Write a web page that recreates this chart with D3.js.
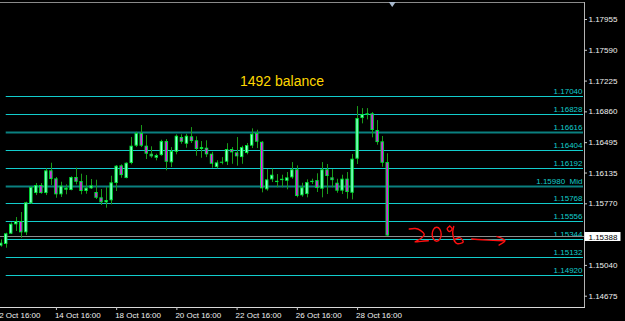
<!DOCTYPE html>
<html>
<head>
<meta charset="utf-8">
<script src="https://cdn.jsdelivr.net/npm/d3@7"></script>
<style>
	body { margin: 0; background: #000; }
	svg { display: block; }
	text { font-family: "Liberation Sans", Arial, sans-serif; }
</style>
</head>
<body>
<script>
// EURUSD H4 bars
var barOpen = [1.15268, 1.15288, 1.15410, 1.15521, 1.15560, 1.15426, 1.15770, 1.15892, 1.15987, 1.15892,
	1.16161, 1.16066, 1.15877, 1.15931, 1.15928, 1.16082, 1.16034, 1.15916, 1.15948, 1.15904,
	1.15841, 1.15782, 1.15806, 1.16011, 1.16220, 1.16070, 1.16248, 1.16453, 1.16603, 1.16453,
	1.16358, 1.16310, 1.16342, 1.16508, 1.16256, 1.16381, 1.16556, 1.16476, 1.16564, 1.16517,
	1.16414, 1.16429, 1.16358, 1.16200, 1.16251, 1.16263, 1.16414, 1.16374, 1.16318, 1.16366,
	1.16453, 1.16603, 1.16500, 1.15936, 1.16054, 1.16022, 1.16045, 1.16037, 1.16078, 1.16173,
	1.15865, 1.15880, 1.16022, 1.16045, 1.15943, 1.16173, 1.16078, 1.16014, 1.15920, 1.16062,
	1.15895, 1.16299, 1.16781, 1.16820, 1.16837, 1.16639, 1.16505, 1.16259];
var barHigh = [1.15343, 1.15422, 1.15545, 1.15608, 1.15667, 1.15789, 1.15972, 1.16011, 1.16011, 1.16185,
	1.16251, 1.16082, 1.16026, 1.15995, 1.16090, 1.16192, 1.16121, 1.16105, 1.16058, 1.16050,
	1.15940, 1.15963, 1.16097, 1.16224, 1.16232, 1.16256, 1.16556, 1.16619, 1.16698, 1.16579,
	1.16446, 1.16358, 1.16524, 1.16532, 1.16437, 1.16588, 1.16588, 1.16595, 1.16674, 1.16564,
	1.16508, 1.16517, 1.16381, 1.16280, 1.16318, 1.16483, 1.16437, 1.16556, 1.16453, 1.16485,
	1.16659, 1.16642, 1.16508, 1.16175, 1.16182, 1.16117, 1.16109, 1.16141, 1.16259, 1.16220,
	1.16014, 1.16054, 1.16062, 1.16126, 1.16259, 1.16236, 1.16175, 1.16061, 1.16109, 1.16141,
	1.16355, 1.16923, 1.16899, 1.16899, 1.16852, 1.16757, 1.16568, 1.16363];
var barLow = [1.15256, 1.15244, 1.15406, 1.15442, 1.15362, 1.15394, 1.15765, 1.15868, 1.15884, 1.15868,
	1.15987, 1.15836, 1.15845, 1.15877, 1.15924, 1.15995, 1.15877, 1.15884, 1.15940, 1.15821,
	1.15750, 1.15718, 1.15758, 1.15916, 1.16073, 1.16066, 1.16232, 1.16437, 1.16437, 1.16295,
	1.16310, 1.16280, 1.16334, 1.16161, 1.16200, 1.16351, 1.16476, 1.16429, 1.16485, 1.16334,
	1.16310, 1.16318, 1.16192, 1.16185, 1.16232, 1.16224, 1.16239, 1.16216, 1.16239, 1.16351,
	1.16425, 1.16425, 1.15900, 1.15920, 1.16022, 1.15960, 1.15960, 1.15936, 1.16061, 1.15841,
	1.15848, 1.15841, 1.15999, 1.15904, 1.15841, 1.15880, 1.15960, 1.15895, 1.15880, 1.15825,
	1.15817, 1.16236, 1.16718, 1.16765, 1.16552, 1.16465, 1.16204, 1.15385];
var barClose = [1.15303, 1.15415, 1.15528, 1.15560, 1.15426, 1.15782, 1.15963, 1.15987, 1.15892, 1.16161,
	1.16058, 1.15877, 1.15979, 1.15955, 1.16082, 1.16026, 1.15916, 1.15955, 1.15983, 1.15836,
	1.15782, 1.15809, 1.16019, 1.16216, 1.16105, 1.16251, 1.16453, 1.16603, 1.16453, 1.16358,
	1.16327, 1.16342, 1.16508, 1.16263, 1.16390, 1.16571, 1.16500, 1.16571, 1.16508, 1.16414,
	1.16437, 1.16351, 1.16239, 1.16256, 1.16263, 1.16414, 1.16374, 1.16327, 1.16437, 1.16461,
	1.16595, 1.16500, 1.15948, 1.16054, 1.16109, 1.16037, 1.16061, 1.16078, 1.16173, 1.15857,
	1.15960, 1.16022, 1.16037, 1.15951, 1.16173, 1.16094, 1.16045, 1.15920, 1.16062, 1.15904,
	1.16299, 1.16781, 1.16828, 1.16837, 1.16639, 1.16496, 1.16251, 1.15388];

// time axis: bar index of each label
var timeTickBars = [-1, 11, 23, 35, 47, 59, 71];
var timeTickLabels = ["12 Oct 16:00", "14 Oct 16:00", "18 Oct 16:00", "20 Oct 16:00",
	"22 Oct 16:00", "26 Oct 16:00", "28 Oct 16:00"];

// price scale labels
var priceTicks = [1.17955, 1.17590, 1.17225, 1.16860, 1.16495, 1.16135, 1.15770, 1.15040, 1.14675];

// horizontal levels
var levelPrices = [1.17040, 1.16828, 1.16616, 1.16404, 1.16192, 1.15980, 1.15768, 1.15556, 1.15344, 1.15132, 1.14920];
var levelTags = ["", "", "", "", "", "  Mid", "", "", "", "", ""];
var levelMajor = [false, false, true, false, false, true, false, false, false, false, false];

var title = "1492 balance";

var width = 625, height = 321,
	plotRight = 584, plotBottom = 307, plotTop = 2;

var svg = d3.select("body").append("svg")
	.attr("width", width)
	.attr("height", height);

svg.append("rect").attr("width", width).attr("height", height).attr("fill", "#000");

var x = d3.scaleLinear().domain([0, barClose.length - 1]).range([0.7, 387.2]);
var y = d3.scaleLinear().domain([1.14675, 1.17955]).range([295.7, 19]);

var lastPrice = barClose[barClose.length - 1];

// levels
var levels = svg.append("g").attr("class", "levels")
	.selectAll("g")
	.data(levelPrices)
	.enter().append("g");

levels.append("line")
	.attr("x1", x(1))
	.attr("x2", plotRight - 1)
	.attr("y1", function(d) { return Math.round(y(d)) + 0.5; })
	.attr("y2", function(d) { return Math.round(y(d)) + 0.5; })
	.attr("stroke", function(d, i) { return levelMajor[i] ? "#0a8080" : "#12cccc"; })
	.attr("stroke-width", function(d, i) { return levelMajor[i] ? 2 : 1; });

levels.append("text")
	.attr("x", plotRight - 1.5)
	.attr("y", function(d) { return Math.round(y(d)) - 2; })
	.attr("text-anchor", "end")
	.attr("font-size", "8px")
	.attr("fill", "#12cccc")
	.style("white-space", "pre")
	.text(function(d, i) { return d.toFixed(5) + levelTags[i]; });

// current price line
svg.append("line")
	.attr("x1", 0).attr("x2", plotRight)
	.attr("y1", Math.round(y(lastPrice)) + 0.5)
	.attr("y2", Math.round(y(lastPrice)) + 0.5)
	.attr("stroke", "#8c8c8c");

// candles
var bars = d3.range(barClose.length);
var candle = svg.append("g").attr("class", "candles")
	.selectAll("g")
	.data(bars)
	.enter().append("g");

candle.append("line")
	.attr("x1", function(i) { return Math.round(x(i)) + 0.5; })
	.attr("x2", function(i) { return Math.round(x(i)) + 0.5; })
	.attr("y1", function(i) { return y(barHigh[i]); })
	.attr("y2", function(i) { return y(barLow[i]); })
	.attr("stroke", "#1a9a1a");

function bodyTop(i) { return y(Math.max(barOpen[i], barClose[i])); }
function bodyH(i) { return Math.max(1, y(Math.min(barOpen[i], barClose[i])) - bodyTop(i)); }

candle.append("rect")
	.attr("x", function(i) { return x(i) - 1.7; })
	.attr("width", 3.4)
	.attr("y", bodyTop)
	.attr("height", bodyH)
	.attr("fill", "#00e83a");

candle.filter(function(i) { return bodyH(i) > 2; })
	.append("rect")
	.attr("x", function(i) { return x(i) - 0.7; })
	.attr("width", 1.4)
	.attr("y", function(i) { return bodyTop(i) + 1; })
	.attr("height", function(i) { return bodyH(i) - 2; })
	.attr("fill", function(i) { return barClose[i] >= barOpen[i] ? "#8fffd8" : "#ff00ff"; });

// frame
svg.append("line").attr("x1", 0).attr("x2", plotRight).attr("y1", plotTop + 0.5).attr("y2", plotTop + 0.5)
	.attr("stroke", "#8a8a8a");
svg.append("line").attr("x1", plotRight + 0.5).attr("x2", plotRight + 0.5).attr("y1", plotTop).attr("y2", plotBottom)
	.attr("stroke", "#b4b4b4");
svg.append("line").attr("x1", 0).attr("x2", plotRight + 1).attr("y1", plotBottom + 0.5).attr("y2", plotBottom + 0.5)
	.attr("stroke", "#d8d8d8");

// shift marker
var sx = x(barClose.length);
svg.append("path")
	.attr("d", "M" + (sx - 3.5) + "," + plotTop + "L" + (sx + 3.5) + "," + plotTop + "L" + sx + "," + (plotTop + 5) + "Z")
	.attr("fill", "#a8b8cc");

// price axis
var yAxis = svg.append("g")
	.attr("transform", "translate(" + plotRight + ",0)")
	.call(d3.axisRight(y).tickValues(priceTicks).tickFormat(d3.format(".5f")).tickSize(3).tickPadding(1.5));
yAxis.select(".domain").remove();
yAxis.selectAll("line").attr("stroke", "#c8c8c8");
yAxis.selectAll("text").attr("fill", "#f0f0f0").attr("font-size", "8px").attr("font-family", null);

// current price label
var py = y(lastPrice);
svg.append("rect")
	.attr("x", plotRight + 0.5).attr("y", Math.round(py) - 4)
	.attr("width", 36).attr("height", 9)
	.attr("fill", "#fff");
svg.append("text")
	.attr("x", plotRight + 4.5).attr("y", Math.round(py) + 3.5)
	.attr("font-size", "8px").attr("fill", "#000")
	.text(lastPrice.toFixed(5));

// time axis
var xAxis = svg.append("g")
	.attr("transform", "translate(0," + plotBottom + ")")
	.call(d3.axisBottom(x).tickValues(timeTickBars)
		.tickFormat(function(d, i) { return timeTickLabels[i]; })
		.tickSize(3).tickPadding(2));
xAxis.select(".domain").remove();
xAxis.selectAll("line").attr("stroke", "#c8c8c8");
xAxis.selectAll("text")
	.attr("fill", "#f0f0f0").attr("font-size", "8px").attr("font-family", null)
	.attr("text-anchor", "start").attr("x", -1.5);

// title
svg.append("text")
	.attr("x", 240).attr("y", 86)
	.attr("font-size", "14px")
	.attr("fill", "#ffd700")
	.text(title);

// hand drawn note, offsets from the last close
var ax = x(barClose.length - 1), ay = y(lastPrice);
var noteStrokes = [
	[[22.1, -6.5], [28, -7], [32.8, -5.5], [37, -1], [33, 3.5], [27.8, 6.2], [34, 5.8], [41.1, 5.2]],
	[[62.5, -9.5], [60, -7], [62, -4], [65, -6.5], [62.5, -9.5]],
	[[66.5, -9], [65.5, -2], [67.5, 5.5]],
	[[71.5, 2.2], [67, 4.5], [70, 8], [76, 6.5], [73, 2.2], [71.5, 2.2]],
	[[84.5, 3.5], [95, 4.2], [106, 4.8], [116.8, 5.2]],
	[[109.8, 1], [117.8, 5], [111.8, 9.5]]
];
var noteLine = d3.line()
	.x(function(p) { return ax + p[0]; })
	.y(function(p) { return ay + p[1]; })
	.curve(d3.curveCatmullRom);

var note = svg.append("g").attr("class", "note");
note.selectAll("path")
	.data(noteStrokes)
	.enter().append("path")
	.attr("d", noteLine)
	.attr("fill", "none")
	.attr("stroke", "#ff1010")
	.attr("stroke-width", 1.4)
	.attr("stroke-linecap", "round");
note.append("ellipse")
	.attr("cx", ax + 49.5).attr("cy", ay - 1.3)
	.attr("rx", 4.5).attr("ry", 7)
	.attr("fill", "none")
	.attr("stroke", "#ff1010")
	.attr("stroke-width", 1.4);
</script>
</body>
</html>
